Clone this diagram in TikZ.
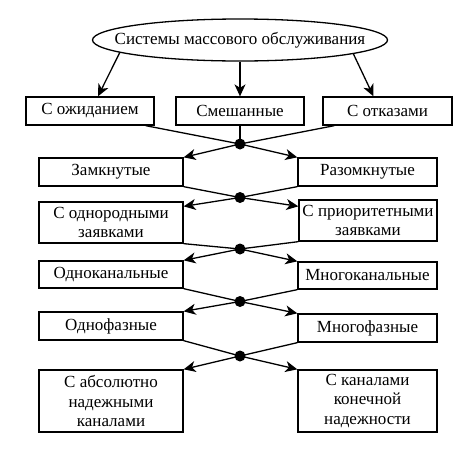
\documentclass[tikz,border=0pt]{standalone}
\usepackage{fontspec}
\setmainfont{Liberation Serif}
\usetikzlibrary{arrows.meta,shapes.geometric,calc}
\begin{document}
\begin{tikzpicture}[x=1pt,y=-1pt,
  line width=1.3pt,
  txt/.style={font=\fontsize{17}{19.5}\selectfont},
  box/.style={txt,draw,rectangle,inner sep=0pt,align=center},
  dotnode/.style={circle,fill=black,inner sep=0pt,minimum size=11pt},
  arr/.style={-{Stealth[length=12pt,width=11pt,inset=3.5pt]}}]
\useasboundingbox (0,0) rectangle (466,453);
% top ellipse
\node[txt,draw,ellipse,inner sep=0pt,minimum width=295pt,minimum height=42pt] (ell) at (240,40) {\makebox[0pt]{Системы массового обслуживания}};
% first row
\node[box,minimum width=128pt,minimum height=28pt] (b1) at (90,111) {С ожиданием};
\node[box,minimum width=128pt,minimum height=28pt] (b2) at (240,111) {Смешанные};
\node[box,minimum width=129pt,minimum height=28pt] (b3) at (387.5,111) {С отказами};
% columns
\node[box,minimum width=144pt,minimum height=28pt] (L1) at (111,172) {Замкнутые};
\node[box,minimum width=139pt,minimum height=28pt] (R1) at (367.5,172) {Разомкнутые};
\node[box,minimum width=144pt,minimum height=41pt] (L2) at (111,222.5) {С однородными\\заявками};
\node[box,minimum width=138pt,minimum height=41pt] (R2) at (368,220.5) {С приоритетными\\заявками};
\node[box,minimum width=144pt,minimum height=27pt] (L3) at (111,274.5) {Одноканальные};
\node[box,minimum width=139pt,minimum height=27pt] (R3) at (367.5,275.5) {Многоканальные};
\node[box,minimum width=144pt,minimum height=28pt] (L4) at (111,326) {Однофазные};
\node[box,minimum width=139pt,minimum height=28pt] (R4) at (367.5,328) {Многофазные};
\node[box,minimum width=144pt,minimum height=62pt] (L5) at (111,401) {С абсолютно\\надежными\\каналами};
\node[box,minimum width=139pt,minimum height=62pt] (R5) at (367.5,401) {С каналами\\конечной\\надежности};
% dots
\node[dotnode] (d1) at (240,144) {};
\node[dotnode] (d2) at (240,197.5) {};
\node[dotnode] (d3) at (240,249) {};
\node[dotnode] (d4) at (240,301.5) {};
\node[dotnode] (d5) at (240,356) {};
% arrows from ellipse
\draw[arr] (ell.186) -- ($(b1.north)+(8,0)$);
\draw[arr] (ell.south) -- (b2.north);
\draw[arr] (ell.353) -- ($(b3.north)+(-14,0)$);
% level 1
\draw ($(b1.south east)+(-9,0)$) -- (d1.center);
\draw (b2.south) -- (d1.center);
\draw ($(b3.south west)+(12,0)$) -- (d1.center);
\draw[arr] (d1.center) -- (L1.north east);
\draw[arr] (d1.center) -- (R1.north west);
% level 2
\draw (L1.south east) -- (d2.center);
\draw (R1.south west) -- (d2.center);
\draw[arr] (d2.center) -- ($(L2.north east)+(0,5)$);
\draw[arr] (d2.center) -- ($(R2.north west)+(0,7)$);
% level 3
\draw (L2.south east) -- (d3.center);
\draw (R2.south west) -- (d3.center);
\draw[arr] (d3.center) -- (L3.north east);
\draw[arr] (d3.center) -- (R3.north west);
% level 4
\draw (L3.south east) -- (d4.center);
\draw (R3.south west) -- (d4.center);
\draw[arr] (d4.center) -- (L4.north east);
\draw[arr] (d4.center) -- (R4.north west);
% level 5
\draw (L4.south east) -- (d5.center);
\draw (R4.south west) -- (d5.center);
\draw[arr] (d5.center) -- (L5.north east);
\draw[arr] (d5.center) -- (R5.north west);
\end{tikzpicture}
\end{document}
